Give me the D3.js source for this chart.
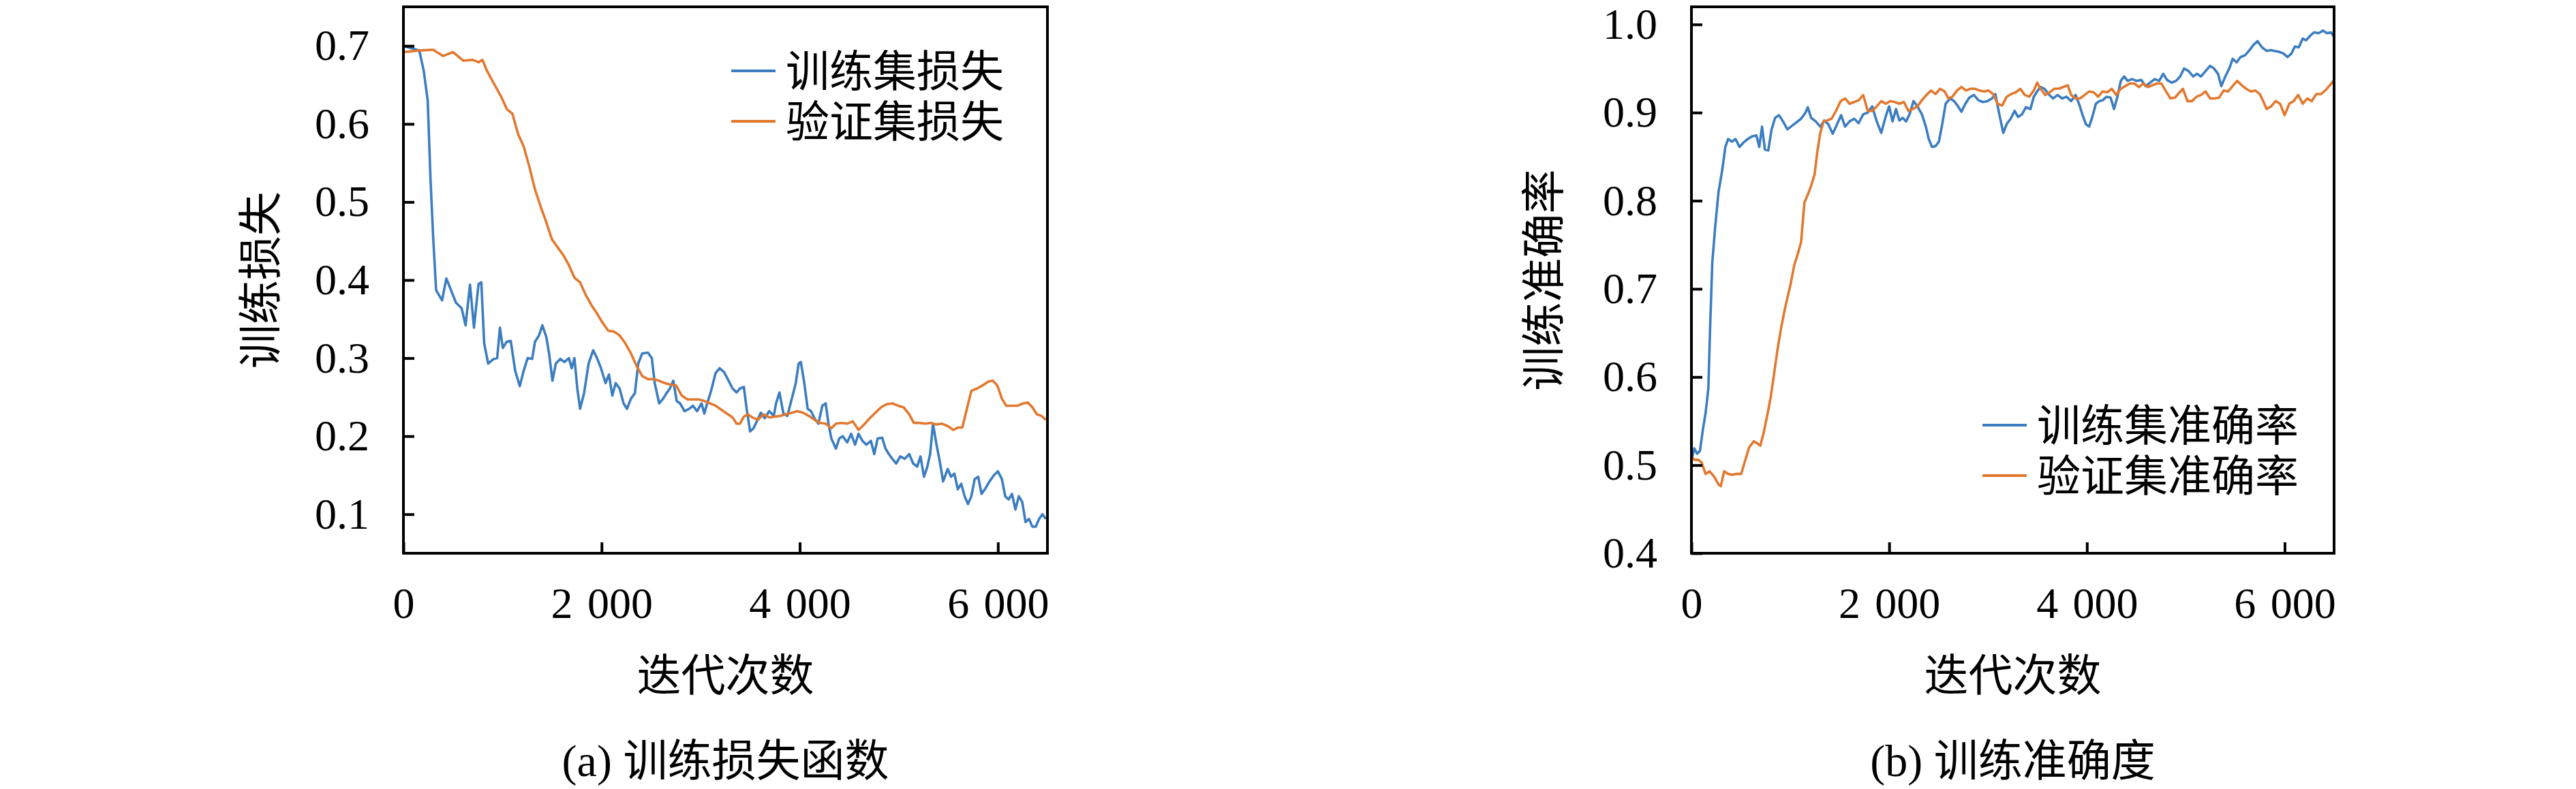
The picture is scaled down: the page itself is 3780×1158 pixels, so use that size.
<!DOCTYPE html>
<html>
<head>
<meta charset="utf-8">
<style>
  body { margin: 0; background: #fff; }
  .num { font-family: "Liberation Serif", "DejaVu Serif", serif; }
  .cjk { font-family: "Noto Sans CJK SC", sans-serif; }
</style>
</head>
<body>
<script src="https://cdn.jsdelivr.net/npm/d3@7"></script>
<script>
// ---- data: [iteration, value] ----
var trainLoss = [
  [0,0.700],[160,0.694],[205,0.668],[245,0.630],[273,0.530],[300,0.455],[330,0.387],[390,0.374],
  [433,0.402],[480,0.387],[530,0.371],[587,0.364],[627,0.342],[672,0.394],[712,0.339],[758,0.395],
  [786,0.397],[815,0.319],[855,0.293],[912,0.299],[946,0.300],[974,0.339],[1003,0.313],[1043,0.321],
  [1083,0.322],[1128,0.284],[1174,0.264],[1214,0.284],[1254,0.300],[1299,0.299],[1328,0.321],[1368,0.329],
  [1402,0.342],[1442,0.327],[1470,0.306],[1504,0.271],[1538,0.293],[1584,0.299],[1624,0.295],[1670,0.300],
  [1698,0.287],[1726,0.300],[1755,0.261],[1783,0.235],[1823,0.255],[1869,0.293],[1915,0.310],[1954,0.300],
  [1994,0.287],[2040,0.268],[2074,0.279],[2108,0.252],[2142,0.268],[2182,0.261],[2222,0.242],[2256,0.235],
  [2296,0.248],[2336,0.255],[2370,0.293],[2410,0.306],[2467,0.307],[2507,0.300],[2536,0.268],[2581,0.242],
  [2621,0.248],[2655,0.255],[2689,0.261],[2724,0.271],[2758,0.245],[2792,0.242],[2838,0.232],[2883,0.235],
  [2923,0.239],[2963,0.232],[3009,0.242],[3037,0.229],[3066,0.242],[3105,0.258],[3151,0.281],[3191,0.287],
  [3236,0.282],[3282,0.271],[3322,0.261],[3362,0.256],[3396,0.261],[3436,0.263],[3464,0.235],[3499,0.206],
  [3533,0.210],[3567,0.219],[3607,0.230],[3647,0.223],[3692,0.232],[3738,0.226],[3761,0.242],[3795,0.256],
  [3835,0.229],[3875,0.226],[3920,0.248],[3960,0.268],[3989,0.293],[4011,0.295],[4046,0.268],[4080,0.235],
  [4114,0.232],[4148,0.223],[4188,0.216],[4228,0.239],[4262,0.242],[4290,0.216],[4319,0.197],[4365,0.184],
  [4399,0.197],[4433,0.200],[4479,0.192],[4519,0.203],[4558,0.189],[4593,0.203],[4633,0.194],[4672,0.189],
  [4718,0.194],[4752,0.177],[4786,0.197],[4832,0.198],[4866,0.184],[4900,0.177],[4934,0.171],[4974,0.165],
  [5014,0.174],[5060,0.171],[5105,0.177],[5145,0.165],[5185,0.161],[5219,0.174],[5254,0.148],[5288,0.161],
  [5316,0.177],[5345,0.216],[5379,0.190],[5413,0.168],[5447,0.142],[5493,0.158],[5527,0.148],[5561,0.152],
  [5595,0.132],[5630,0.139],[5664,0.123],[5698,0.113],[5732,0.123],[5766,0.145],[5801,0.148],[5835,0.126],
  [5869,0.132],[5915,0.142],[5960,0.150],[6000,0.155],[6040,0.145],[6074,0.123],[6108,0.119],[6142,0.126],
  [6177,0.106],[6211,0.123],[6245,0.116],[6279,0.090],[6313,0.094],[6348,0.084],[6382,0.084],[6416,0.094],
  [6450,0.100],[6484,0.094]
];
var valLoss = [
  [0,0.692],[160,0.694],[300,0.695],[400,0.687],[500,0.692],[604,0.681],[700,0.682],[758,0.679],
  [798,0.682],[843,0.668],[912,0.652],[986,0.635],[1043,0.619],[1100,0.613],[1157,0.587],[1214,0.571],
  [1271,0.545],[1328,0.516],[1385,0.494],[1442,0.474],[1499,0.452],[1556,0.442],[1613,0.432],[1670,0.419],
  [1726,0.403],[1783,0.397],[1840,0.381],[1897,0.368],[1954,0.357],[2011,0.345],[2068,0.335],[2125,0.334],
  [2182,0.329],[2239,0.319],[2296,0.306],[2353,0.290],[2410,0.277],[2467,0.273],[2524,0.273],[2581,0.271],
  [2638,0.268],[2695,0.266],[2752,0.265],[2809,0.252],[2866,0.247],[2923,0.247],[2980,0.247],[3037,0.245],
  [3094,0.242],[3151,0.239],[3208,0.234],[3265,0.229],[3322,0.224],[3362,0.216],[3396,0.216],[3436,0.225],
  [3476,0.228],[3521,0.224],[3578,0.221],[3635,0.228],[3692,0.224],[3749,0.225],[3806,0.226],[3863,0.228],
  [3920,0.230],[3977,0.232],[4034,0.230],[4091,0.226],[4148,0.221],[4205,0.217],[4262,0.216],[4319,0.210],
  [4365,0.216],[4422,0.217],[4479,0.216],[4536,0.219],[4593,0.208],[4650,0.215],[4707,0.223],[4764,0.230],
  [4821,0.237],[4878,0.241],[4934,0.242],[4991,0.239],[5048,0.237],[5105,0.228],[5151,0.217],[5208,0.217],
  [5265,0.216],[5322,0.217],[5379,0.215],[5436,0.216],[5493,0.213],[5550,0.208],[5595,0.211],[5641,0.211],
  [5687,0.235],[5732,0.258],[5789,0.261],[5846,0.265],[5903,0.270],[5949,0.271],[5994,0.265],[6040,0.248],
  [6085,0.239],[6142,0.239],[6199,0.239],[6256,0.242],[6302,0.243],[6348,0.237],[6393,0.228],[6439,0.226],
  [6484,0.221]
];
var trainAcc = [
  [0,0.505],[29,0.519],[57,0.513],[86,0.516],[114,0.539],[143,0.559],[171,0.587],[189,0.656],
  [211,0.730],[240,0.770],[274,0.810],[309,0.833],[343,0.861],[371,0.870],[411,0.867],[446,0.870],
  [486,0.861],[526,0.866],[571,0.870],[611,0.873],[657,0.874],[686,0.861],[714,0.884],[743,0.858],
  [777,0.857],[811,0.881],[846,0.894],[886,0.897],[926,0.890],[971,0.881],[1017,0.885],[1063,0.889],
  [1109,0.893],[1154,0.900],[1177,0.906],[1211,0.894],[1257,0.890],[1303,0.884],[1343,0.891],[1383,0.887],
  [1429,0.876],[1474,0.887],[1514,0.897],[1554,0.884],[1600,0.890],[1646,0.893],[1691,0.888],[1737,0.898],
  [1783,0.900],[1829,0.907],[1874,0.890],[1920,0.877],[1966,0.896],[2000,0.907],[2034,0.890],[2069,0.904],
  [2103,0.891],[2137,0.894],[2171,0.890],[2206,0.898],[2246,0.913],[2286,0.907],[2331,0.898],[2371,0.884],
  [2400,0.870],[2434,0.861],[2469,0.862],[2503,0.867],[2537,0.887],[2571,0.910],[2617,0.916],[2657,0.913],
  [2697,0.907],[2731,0.901],[2771,0.910],[2811,0.917],[2857,0.920],[2903,0.914],[2949,0.912],[2994,0.913],
  [3040,0.916],[3074,0.921],[3114,0.898],[3154,0.877],[3189,0.887],[3229,0.893],[3269,0.902],[3303,0.895],
  [3343,0.898],[3383,0.906],[3429,0.904],[3463,0.918],[3497,0.924],[3531,0.929],[3571,0.927],[3611,0.921],
  [3657,0.916],[3703,0.920],[3749,0.916],[3794,0.918],[3840,0.913],[3886,0.920],[3920,0.910],[3954,0.898],
  [3989,0.887],[4023,0.884],[4057,0.896],[4091,0.910],[4126,0.913],[4160,0.914],[4200,0.918],[4240,0.917],
  [4274,0.904],[4309,0.918],[4343,0.936],[4377,0.941],[4411,0.936],[4457,0.938],[4503,0.936],[4549,0.937],
  [4594,0.930],[4640,0.934],[4686,0.938],[4731,0.936],[4771,0.944],[4811,0.937],[4857,0.934],[4903,0.936],
  [4943,0.941],[4983,0.950],[5029,0.947],[5074,0.941],[5114,0.944],[5154,0.941],[5200,0.947],[5246,0.953],
  [5286,0.950],[5326,0.944],[5360,0.930],[5400,0.941],[5440,0.950],[5474,0.961],[5514,0.957],[5554,0.963],
  [5600,0.965],[5646,0.971],[5686,0.977],[5726,0.981],[5771,0.974],[5817,0.970],[5857,0.971],[5897,0.970],
  [5943,0.969],[5989,0.967],[6029,0.963],[6069,0.967],[6103,0.975],[6143,0.974],[6183,0.984],[6217,0.982],
  [6257,0.987],[6297,0.991],[6343,0.990],[6389,0.993],[6429,0.990],[6469,0.991],[6500,0.986]
];
var valAcc = [
  [0,0.510],[29,0.506],[69,0.506],[103,0.503],[143,0.490],[183,0.493],[229,0.487],[274,0.478],
  [297,0.476],[331,0.493],[371,0.490],[411,0.489],[457,0.490],[503,0.490],[543,0.505],[583,0.520],
  [629,0.527],[663,0.525],[697,0.522],[731,0.537],[766,0.556],[800,0.576],[834,0.602],[869,0.630],
  [903,0.653],[937,0.673],[971,0.690],[1006,0.707],[1040,0.727],[1074,0.739],[1109,0.753],[1143,0.798],
  [1177,0.807],[1211,0.817],[1246,0.830],[1274,0.856],[1303,0.877],[1337,0.890],[1371,0.891],[1417,0.893],
  [1463,0.902],[1509,0.913],[1554,0.916],[1600,0.910],[1646,0.912],[1691,0.914],[1737,0.920],[1783,0.902],
  [1829,0.902],[1874,0.907],[1920,0.913],[1966,0.910],[2011,0.913],[2057,0.912],[2103,0.910],[2149,0.912],
  [2194,0.902],[2240,0.904],[2286,0.907],[2331,0.914],[2377,0.920],[2423,0.925],[2469,0.921],[2514,0.927],
  [2560,0.924],[2600,0.916],[2640,0.918],[2686,0.925],[2731,0.929],[2777,0.925],[2823,0.927],[2869,0.927],
  [2914,0.925],[2960,0.924],[3006,0.925],[3051,0.921],[3097,0.910],[3143,0.908],[3189,0.918],[3234,0.921],
  [3280,0.923],[3326,0.927],[3371,0.920],[3417,0.918],[3463,0.925],[3497,0.934],[3531,0.927],[3577,0.920],
  [3623,0.923],[3669,0.927],[3714,0.927],[3760,0.929],[3806,0.931],[3840,0.920],[3886,0.916],[3931,0.916],
  [3977,0.920],[4023,0.924],[4069,0.923],[4114,0.918],[4160,0.924],[4206,0.923],[4251,0.927],[4297,0.920],
  [4343,0.927],[4389,0.930],[4434,0.933],[4480,0.933],[4526,0.929],[4571,0.933],[4617,0.929],[4663,0.931],
  [4709,0.933],[4754,0.933],[4800,0.924],[4846,0.916],[4891,0.917],[4937,0.923],[4971,0.927],[5017,0.913],
  [5063,0.913],[5109,0.918],[5154,0.920],[5200,0.924],[5246,0.916],[5291,0.916],[5337,0.917],[5383,0.925],
  [5429,0.924],[5474,0.930],[5520,0.936],[5566,0.931],[5611,0.927],[5657,0.924],[5703,0.925],[5749,0.921],
  [5783,0.913],[5817,0.904],[5863,0.907],[5909,0.913],[5954,0.910],[6000,0.897],[6046,0.910],[6091,0.913],
  [6137,0.920],[6183,0.910],[6229,0.916],[6274,0.913],[6320,0.921],[6366,0.921],[6411,0.925],[6457,0.931],
  [6500,0.937]
];

var xTicks = [0, 2000, 4000, 6000];
var xTickLabels = ["0", "2\u2004000", "4\u2004000", "6\u2004000"];
var lossTicks = [0.1, 0.2, 0.3, 0.4, 0.5, 0.6, 0.7];
var lossTickLabels = ["0.1", "0.2", "0.3", "0.4", "0.5", "0.6", "0.7"];
var accTicks = [0.4, 0.5, 0.6, 0.7, 0.8, 0.9, 1.0];
var accTickLabels = ["0.4", "0.5", "0.6", "0.7", "0.8", "0.9", "1.0"];

var lossNames = ["训练集损失", "验证集损失"];
var accNames = ["训练集准确率", "验证集准确率"];
var colors = ["#3b7dc0", "#e2782e"];

var svg = d3.select("body").append("svg")
  .attr("width", 3780)
  .attr("height", 1158);

function panel(opt) {
  var x = d3.scaleLinear().domain([0, 6500]).range([opt.left, opt.right]);
  var y = d3.scaleLinear().domain(opt.yDomain).range([opt.bottom, opt.top]);
  var g = svg.append("g");

  var clipId = "clip-" + opt.id;
  g.append("clipPath").attr("id", clipId)
    .append("rect")
    .attr("x", opt.left).attr("y", opt.top)
    .attr("width", opt.right - opt.left).attr("height", opt.bottom - opt.top);

  var line = d3.line()
    .x(function (d) { return x(d[0]); })
    .y(function (d) { return y(d[1]); });

  opt.series.forEach(function (s, i) {
    g.append("path")
      .datum(s)
      .attr("clip-path", "url(#" + clipId + ")")
      .attr("d", line)
      .attr("fill", "none")
      .attr("stroke", colors[i])
      .attr("stroke-width", 3.6)
      .attr("stroke-linejoin", "round");
  });

  // axes: inward ticks, labels in serif
  var xAxis = d3.axisBottom(x)
    .tickValues(xTicks)
    .tickFormat(function (d, i) { return xTickLabels[i]; })
    .tickSizeInner(-16).tickSizeOuter(0).tickPadding(50);
  var yAxis = d3.axisLeft(y)
    .tickValues(opt.yTicks)
    .tickFormat(function (d, i) { return opt.yTickLabels[i]; })
    .tickSizeInner(-16).tickSizeOuter(0).tickPadding(50);

  var gx = g.append("g").attr("transform", "translate(0," + opt.bottom + ")").call(xAxis);
  var gy = g.append("g").attr("transform", "translate(" + opt.left + ",0)").call(yAxis);
  [gx, gy].forEach(function (a) {
    a.select(".domain").remove();
    a.selectAll("line").attr("stroke", "#000").attr("stroke-width", 4);
    a.selectAll("text")
      .attr("class", "num")
      .attr("font-size", 64)
      .attr("fill", "#000");
  });

  // frame
  g.append("rect")
    .attr("x", opt.left).attr("y", opt.top)
    .attr("width", opt.right - opt.left).attr("height", opt.bottom - opt.top)
    .attr("fill", "none").attr("stroke", "#000").attr("stroke-width", 4);

  var cx = (opt.left + opt.right) / 2;
  var cy = (opt.top + opt.bottom) / 2;

  g.append("text")
    .attr("class", "cjk")
    .attr("transform", "translate(" + (opt.left - opt.yLabelGap) + "," + cy + ") rotate(-90)")
    .attr("text-anchor", "middle")
    .attr("dy", "0.36em")
    .attr("font-size", 65)
    .text(opt.yLabel);

  g.append("text")
    .attr("class", "cjk")
    .attr("x", cx).attr("y", 991)
    .attr("text-anchor", "middle")
    .attr("dy", "0.36em")
    .attr("font-size", 65)
    .text("迭代次数");

  var cap = g.append("text")
    .attr("x", cx).attr("y", 1116)
    .attr("text-anchor", "middle")
    .attr("dy", "0.36em")
    .attr("font-size", 65);
  cap.append("tspan").attr("class", "num").attr("font-size", 66).text(opt.tag + " ");
  cap.append("tspan").attr("class", "cjk").text(opt.caption);

  // legend: swatches, then both names in one text block (one line each)
  var rowGap = 74;
  opt.names.forEach(function (name, i) {
    var ly = opt.legendY + i * rowGap;
    g.append("line")
      .attr("x1", opt.legendX).attr("x2", opt.legendX + 65)
      .attr("y1", ly).attr("y2", ly)
      .attr("stroke", colors[i]).attr("stroke-width", 4);
  });
  var lt = g.append("text")
    .attr("class", "cjk")
    .attr("font-size", 64);
  opt.names.forEach(function (name, i) {
    lt.append("tspan")
      .attr("x", opt.legendX + 80)
      .attr("y", opt.legendY + i * rowGap)
      .attr("dy", "0.36em")
      .text(name);
  });
}

panel({
  id: "loss", left: 592, right: 1537, top: 10, bottom: 812,
  yDomain: [0.05, 0.75], yTicks: lossTicks, yTickLabels: lossTickLabels,
  series: [trainLoss, valLoss], names: lossNames,
  yLabel: "训练损失", yLabelGap: 210,
  tag: "(a)", caption: "训练损失函数",
  legendX: 1073, legendY: 104
});

panel({
  id: "acc", left: 2482, right: 3425, top: 10, bottom: 812,
  yDomain: [0.4, 1.02], yTicks: accTicks, yTickLabels: accTickLabels,
  series: [trainAcc, valAcc], names: accNames,
  yLabel: "训练准确率", yLabelGap: 217,
  tag: "(b)", caption: "训练准确度",
  legendX: 2909, legendY: 624
});
</script>
</body>
</html>
